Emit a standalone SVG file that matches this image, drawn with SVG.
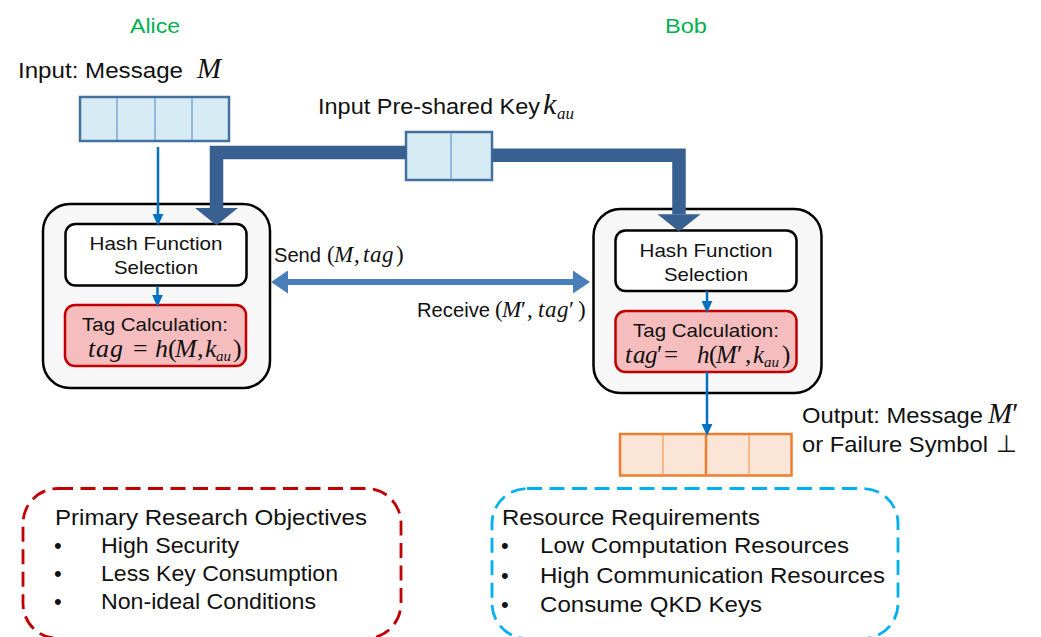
<svg xmlns="http://www.w3.org/2000/svg" width="1041" height="637" viewBox="0 0 1041 637">
  <defs>
    <style>
      .sans { font-family: "Liberation Sans", Arial, sans-serif; fill: #111; }
      .math { font-family: "Liberation Serif", "Times New Roman", serif; font-style: italic; fill: #111; }
      .up { font-style: normal; }
      .party { fill: #00B050; }
      .outer { fill: #F7F7F7; stroke: #000; stroke-width: 2.5; }
      .hash { fill: #FFFFFF; stroke: #000; stroke-width: 2.5; }
      .tag { fill: #F6BDBE; stroke: #C00000; stroke-width: 2.5; }
      .cell { fill: #D7EBF4; stroke: #41719C; stroke-width: 2.5; }
      .cell-div { stroke: #7EA6D0; stroke-width: 1.5; }
      .out-cell { fill: #FBE5D6; stroke: #ED7D31; stroke-width: 2.5; }
      .out-div { stroke: #F4A870; stroke-width: 1.5; }
      .thick { fill: none; stroke: #386090; stroke-width: 13.5; stroke-linejoin: miter; }
      .thin { fill: none; stroke: #0070C0; stroke-width: 2.5; }
      .both { fill: none; stroke: #4A7EBB; stroke-width: 6; }
      .goal { fill: none; stroke: #C00000; stroke-width: 2.8; stroke-dasharray: 15 7.5; }
      .need { fill: none; stroke: #00B0F0; stroke-width: 2.8; stroke-dasharray: 15 7.5; }
    </style>
    <marker id="head-thick" markerUnits="userSpaceOnUse" markerWidth="20" markerHeight="44" viewBox="0 -21 17 42" refX="0" refY="0" orient="auto">
      <path d="M0,-20.5 L16.5,0 L0,20.5 z" fill="#386090"/>
    </marker>
    <marker id="head-thin" markerUnits="userSpaceOnUse" markerWidth="12" markerHeight="12" viewBox="0 -5 10 10" refX="0" refY="0" orient="auto">
      <path d="M0,-4.5 L10,0 L0,4.5 z" fill="#0070C0"/>
    </marker>
    <marker id="head-both" markerUnits="userSpaceOnUse" markerWidth="18" markerHeight="24" viewBox="0 -12 17 24" refX="0" refY="0" orient="auto-start-reverse">
      <path d="M0,-11.5 L17,0 L0,11.5 z" fill="#4A7EBB"/>
    </marker>
  </defs>

  <rect width="1041" height="637" fill="#FFFFFF"/>

  <!-- party names -->
  <g id="alice-label">
    <text class="sans party" x="130" y="33" font-size="21" textLength="50" lengthAdjust="spacingAndGlyphs">Alice</text>
  </g>
  <g id="bob-label">
    <text class="sans party" x="665" y="33" font-size="21" textLength="42" lengthAdjust="spacingAndGlyphs">Bob</text>
  </g>

  <!-- message input -->
  <g id="message-input">
    <text class="sans" x="18" y="78" font-size="22" textLength="165" lengthAdjust="spacingAndGlyphs">Input: Message</text>
    <text class="math" x="197" y="78" font-size="29">M</text>
    <rect class="cell" x="80" y="97" width="149" height="44"/>
    <line class="cell-div" x1="117" y1="98" x2="117" y2="140"/>
    <line class="cell-div" x1="155" y1="98" x2="155" y2="140"/>
    <line class="cell-div" x1="192" y1="98" x2="192" y2="140"/>
  </g>

  <!-- pre-shared key -->
  <g id="key-input">
    <text class="sans" x="318" y="114" font-size="22" textLength="222" lengthAdjust="spacingAndGlyphs">Input Pre-shared Key</text>
    <text class="math" y="114" font-size="30"><tspan x="543">k</tspan><tspan x="557" dy="5" font-size="17">au</tspan></text>
    <rect class="cell" x="406" y="132" width="86" height="48"/>
    <line class="cell-div" x1="451" y1="133" x2="451" y2="179"/>
  </g>

  <!-- Alice -->
  <g id="alice">
    <rect class="outer" x="43" y="204" width="227" height="184" rx="27"/>
  </g>
  <g id="alice-hash">
    <rect class="hash" x="65.5" y="224" width="181" height="61.5" rx="10"/>
    <text class="sans" x="156" y="250" font-size="19" text-anchor="middle" textLength="133" lengthAdjust="spacingAndGlyphs">Hash Function</text>
    <text class="sans" x="156" y="274" font-size="19" text-anchor="middle" textLength="84" lengthAdjust="spacingAndGlyphs">Selection</text>
  </g>
  <g id="alice-tag">
    <rect class="tag" x="65" y="305" width="181" height="61" rx="10"/>
    <text class="sans" x="82" y="331" font-size="19" textLength="146" lengthAdjust="spacingAndGlyphs">Tag Calculation:</text>
    <text class="math" y="357" font-size="26"><tspan x="88 96 110">tag</tspan><tspan class="up" x="133">=</tspan><tspan x="155">h</tspan><tspan class="up" x="168">(</tspan><tspan x="175">M</tspan><tspan class="up" x="197">,</tspan><tspan x="205">k</tspan><tspan x="216" dy="4" font-size="15">au</tspan><tspan class="up" x="233" dy="-4">)</tspan></text>
  </g>

  <!-- Bob -->
  <g id="bob">
    <rect class="outer" x="593.5" y="209" width="228" height="184" rx="27"/>
  </g>
  <g id="bob-hash">
    <rect class="hash" x="615.5" y="230.5" width="181" height="60.5" rx="10"/>
    <text class="sans" x="706" y="256.5" font-size="19" text-anchor="middle" textLength="133" lengthAdjust="spacingAndGlyphs">Hash Function</text>
    <text class="sans" x="706" y="281" font-size="19" text-anchor="middle" textLength="84" lengthAdjust="spacingAndGlyphs">Selection</text>
  </g>
  <g id="bob-tag">
    <rect class="tag" x="615.5" y="311" width="181" height="61" rx="10"/>
    <text class="sans" x="706" y="337" font-size="19" text-anchor="middle" textLength="146" lengthAdjust="spacingAndGlyphs">Tag Calculation:</text>
    <text class="math" y="363" font-size="25"><tspan x="625 633 645">tag</tspan><tspan class="up" x="657">′</tspan><tspan class="up" x="664">=</tspan><tspan x="697">h</tspan><tspan class="up" x="709">(</tspan><tspan x="716">M</tspan><tspan class="up" x="737">′</tspan><tspan class="up" x="745">,</tspan><tspan x="753">k</tspan><tspan x="764" dy="4" font-size="15">au</tspan><tspan class="up" x="782" dy="-4">)</tspan></text>
  </g>

  <!-- output buffer -->
  <g id="output">
    <rect class="out-cell" x="620" y="434" width="171.5" height="41.5"/>
    <line class="out-div" x1="663" y1="435" x2="663" y2="474.5"/>
    <line x1="706" y1="435" x2="706" y2="474.5" stroke="#ED7D31" stroke-width="2.5"/>
    <line class="out-div" x1="749" y1="435" x2="749" y2="474.5"/>
    <text class="sans" x="802" y="423" font-size="22" textLength="181" lengthAdjust="spacingAndGlyphs">Output: Message</text>
    <text class="math" x="988" y="423" font-size="29">M<tspan class="up">′</tspan></text>
    <text class="sans" x="802" y="451.5" font-size="22" textLength="186" lengthAdjust="spacingAndGlyphs">or Failure Symbol</text>
    <text class="math up" x="996" y="451.5" font-size="24">⊥</text>
  </g>

  <!-- objectives panel -->
  <g id="objectives">
    <rect class="goal" x="23" y="488.5" width="378" height="150" rx="35"/>
    <text class="sans" x="55" y="525" font-size="22" textLength="312" lengthAdjust="spacingAndGlyphs">Primary Research Objectives</text>
    <text class="sans" x="54" y="553" font-size="22">•</text>
    <text class="sans" x="101" y="553" font-size="22" textLength="138" lengthAdjust="spacingAndGlyphs">High Security</text>
    <text class="sans" x="54" y="581" font-size="22">•</text>
    <text class="sans" x="101" y="581" font-size="22" textLength="237" lengthAdjust="spacingAndGlyphs">Less Key Consumption</text>
    <text class="sans" x="54" y="609" font-size="22">•</text>
    <text class="sans" x="101" y="609" font-size="22" textLength="215" lengthAdjust="spacingAndGlyphs">Non-ideal Conditions</text>
  </g>

  <!-- resources panel -->
  <g id="requirements">
    <rect class="need" x="492" y="488.5" width="406" height="150" rx="35"/>
    <text class="sans" x="502" y="525" font-size="22" textLength="258" lengthAdjust="spacingAndGlyphs">Resource Requirements</text>
    <text class="sans" x="501" y="553" font-size="22">•</text>
    <text class="sans" x="540" y="553" font-size="22" textLength="309" lengthAdjust="spacingAndGlyphs">Low Computation Resources</text>
    <text class="sans" x="501" y="582.5" font-size="22">•</text>
    <text class="sans" x="540" y="582.5" font-size="22" textLength="345" lengthAdjust="spacingAndGlyphs">High Communication Resources</text>
    <text class="sans" x="501" y="611.5" font-size="22">•</text>
    <text class="sans" x="540" y="611.5" font-size="22" textLength="222" lengthAdjust="spacingAndGlyphs">Consume QKD Keys</text>
  </g>

  <!-- connectors -->
  <g id="connectors">
    <polyline class="thick" points="406,152.5 216.5,152.5 216.5,208" marker-end="url(#head-thick)"/>
    <polyline class="thick" points="492,155.3 679,155.3 679,214.2" marker-end="url(#head-thick)"/>
    <line class="thin" x1="158" y1="147" x2="158" y2="214" marker-end="url(#head-thin)"/>
    <line class="thin" x1="157.5" y1="286" x2="157.5" y2="295" marker-end="url(#head-thin)"/>
    <line class="thin" x1="707" y1="291" x2="707" y2="301" marker-end="url(#head-thin)"/>
    <line class="thin" x1="707" y1="372" x2="707" y2="424" marker-end="url(#head-thin)"/>
    <line class="both" x1="288" y1="282" x2="573" y2="282" marker-start="url(#head-both)" marker-end="url(#head-both)"/>
    <text class="sans" x="274" y="262" font-size="20" textLength="47" lengthAdjust="spacingAndGlyphs">Send</text>
    <text class="math" y="262" font-size="23"><tspan class="up" x="327">(</tspan><tspan x="334">M</tspan><tspan class="up" x="354">,</tspan><tspan x="363 370 382">tag</tspan><tspan class="up" x="396">)</tspan></text>
    <text class="sans" x="417" y="317" font-size="20" textLength="73" lengthAdjust="spacingAndGlyphs">Receive</text>
    <text class="math" y="317" font-size="23"><tspan class="up" x="495">(</tspan><tspan x="502">M</tspan><tspan class="up" x="521">′</tspan><tspan class="up" x="527">,</tspan><tspan x="538 545 557">tag</tspan><tspan class="up" x="569">′</tspan><tspan class="up" x="578">)</tspan></text>
  </g>
</svg>
